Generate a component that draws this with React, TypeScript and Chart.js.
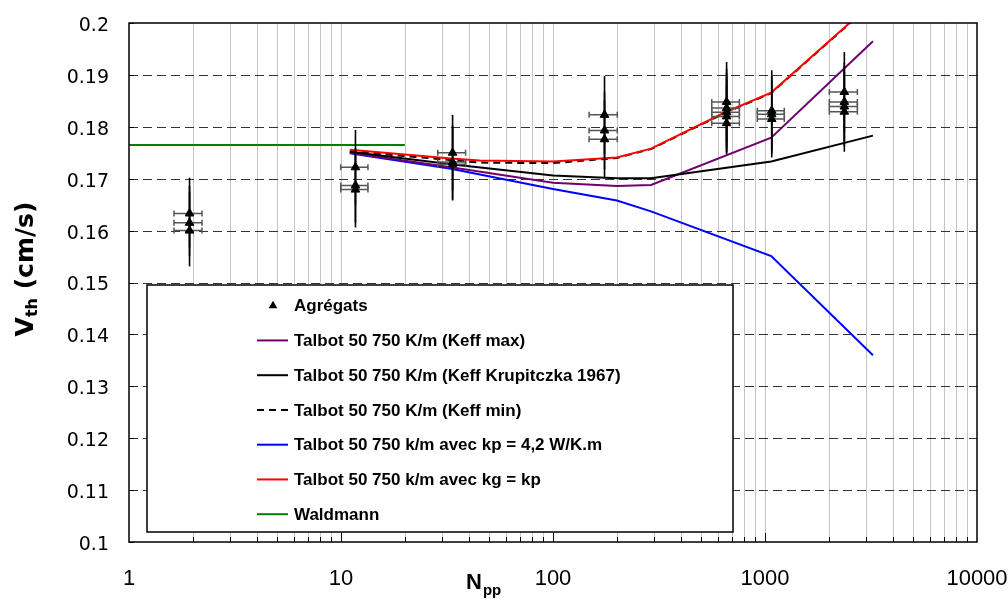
import React, { useEffect, useRef } from 'react';
import { Chart, registerables } from 'chart.js';

Chart.register(...registerables);

// ---- axis ticks ----
const xMajorTicks = [1, 10, 100, 1000, 10000];
const xMinorMultipliers = [1, 2, 3, 4, 5, 6, 7, 8, 9];
const yTicks = [0.1, 0.11, 0.12, 0.13, 0.14, 0.15, 0.16, 0.17, 0.18, 0.19, 0.2];

// ---- Agrégats (measured points with error bars) ----
const aggN = [1.93, 1.93, 1.93, 11.7, 11.7, 11.7, 33.6, 33.6, 33.6, 175, 175, 175, 659, 659, 659, 659, 659, 1076, 1076, 1076, 2367, 2367, 2367, 2367];
const aggV = [0.1633, 0.1615, 0.1600, 0.1722, 0.1687, 0.1679, 0.1750, 0.1732, 0.1728, 0.1823, 0.1793, 0.1776, 0.1848, 0.1836, 0.1828, 0.1820, 0.1807, 0.1831, 0.1824, 0.1815, 0.1867, 0.1848, 0.1839, 0.1829];
const aggNlo = [1.63, 1.63, 1.63, 9.97, 9.97, 9.97, 28.6, 28.6, 28.6, 148, 148, 148, 561, 561, 561, 561, 561, 920, 920, 920, 2011, 2011, 2011, 2011];
const aggNhi = [2.21, 2.21, 2.21, 13.4, 13.4, 13.4, 38.7, 38.7, 38.7, 201, 201, 201, 757, 757, 757, 757, 757, 1233, 1233, 1233, 2727, 2727, 2727, 2727];
const aggVlo = [0.1568, 0.1550, 0.1531, 0.1650, 0.1615, 0.1606, 0.1677, 0.1660, 0.1658, 0.1748, 0.1718, 0.1701, 0.1771, 0.1760, 0.1752, 0.1750, 0.1747, 0.1755, 0.1748, 0.1741, 0.1790, 0.1772, 0.1762, 0.1752];
const aggVhi = [0.1702, 0.1686, 0.1675, 0.1794, 0.1759, 0.1752, 0.1823, 0.1804, 0.1798, 0.1898, 0.1868, 0.1851, 0.1925, 0.1912, 0.1904, 0.1895, 0.1880, 0.1909, 0.1900, 0.1890, 0.1944, 0.1924, 0.1916, 0.1906];

// ---- model curves ----
const keffMaxN = [11, 33, 100, 200, 290, 1070, 3230];
const keffMaxV = [0.1750, 0.1722, 0.1692, 0.1686, 0.1688, 0.1779, 0.1965];

const krupN = [11, 33, 100, 200, 290, 1070, 3230];
const krupV = [0.1752, 0.1728, 0.1706, 0.1701, 0.1701, 0.1733, 0.1783];

const keffMinN = [11, 45, 100, 200, 290, 650, 1070, 3230];
const keffMinV = [0.1753, 0.1731, 0.1730, 0.1740, 0.1757, 0.1827, 0.1865, 0.2039];

const kpN = [11, 33, 100, 200, 290, 1070, 3230];
const kpV = [0.1749, 0.1719, 0.1680, 0.1658, 0.1637, 0.1551, 0.1360];

const kgN = [11, 33, 45, 100, 200, 290, 650, 1070, 3230];
const kgV = [0.1756, 0.1739, 0.1735, 0.1733, 0.1741, 0.1758, 0.1828, 0.1866, 0.2040];

const waldN = [1, 20];
const waldV = [0.1765, 0.1765];

const toXY = (xs: number[], ys: number[]) => xs.map((x, i) => ({ x, y: ys[i] }));

const gridPlugin = {
  id: 'customGrid',
  beforeDatasetsDraw(chart: any) {
    const { ctx, chartArea: a, scales } = chart;
    const x = scales.x, y = scales.y;
    ctx.save();
    ctx.strokeStyle = '#c4c4c4';
    ctx.lineWidth = 1;
    for (let d = 0; d < xMajorTicks.length - 1; d++) {
      for (const m of xMinorMultipliers) {
        const v = xMajorTicks[d] * m;
        if (v <= 1 || v >= 10000) continue;
        const px = Math.round(x.getPixelForValue(v)) + 0.5;
        ctx.beginPath();
        ctx.moveTo(px, a.top);
        ctx.lineTo(px, a.bottom);
        ctx.stroke();
      }
    }
    ctx.strokeStyle = '#333';
    ctx.setLineDash([9, 5]);
    for (let i = 1; i < yTicks.length - 1; i++) {
      const py = Math.round(y.getPixelForValue(yTicks[i])) + 0.5;
      ctx.beginPath();
      ctx.moveTo(a.left, py);
      ctx.lineTo(a.right, py);
      ctx.stroke();
    }
    ctx.restore();
  },
  beforeDatasetDraw(chart: any, args: any) {
    if (args.index !== 0) return;
    const { ctx, scales } = chart;
    const x = scales.x, y = scales.y;
    ctx.save();
    ctx.setLineDash([]);
    ctx.strokeStyle = '#555';
    ctx.lineWidth = 1.5;
    for (let i = 0; i < aggN.length; i++) {
      const py = y.getPixelForValue(aggV[i]);
      const x1 = x.getPixelForValue(aggNlo[i]);
      const x2 = x.getPixelForValue(aggNhi[i]);
      ctx.beginPath();
      ctx.moveTo(x1, py); ctx.lineTo(x2, py);
      ctx.moveTo(x1, py - 3); ctx.lineTo(x1, py + 3);
      ctx.moveTo(x2, py - 3); ctx.lineTo(x2, py + 3);
      ctx.stroke();
    }
    ctx.strokeStyle = '#000';
    ctx.lineWidth = 1.6;
    for (let i = 0; i < aggN.length; i++) {
      const px = x.getPixelForValue(aggN[i]);
      ctx.beginPath();
      ctx.moveTo(px, y.getPixelForValue(aggVlo[i]));
      ctx.lineTo(px, y.getPixelForValue(aggVhi[i]));
      ctx.stroke();
    }
    ctx.restore();
  },
  afterDatasetsDraw(chart: any) {
    const { ctx, chartArea: a, scales } = chart;
    const x = scales.x, y = scales.y;
    ctx.save();
    ctx.setLineDash([]);
    ctx.strokeStyle = '#000';
    ctx.lineWidth = 1.5;
    ctx.strokeRect(a.left, a.top, a.right - a.left, a.bottom - a.top);
    ctx.lineWidth = 1;
    // y ticks (inside)
    for (const v of yTicks) {
      const py = Math.round(y.getPixelForValue(v)) + 0.5;
      ctx.beginPath();
      ctx.moveTo(a.left, py);
      ctx.lineTo(a.left + 5, py);
      ctx.stroke();
    }
    // x ticks (inside)
    for (let d = 0; d < xMajorTicks.length - 1; d++) {
      for (const m of xMinorMultipliers) {
        const v = xMajorTicks[d] * m;
        if (v <= 1) continue;
        const px = Math.round(x.getPixelForValue(v)) + 0.5;
        ctx.beginPath();
        ctx.moveTo(px, a.bottom);
        ctx.lineTo(px, a.bottom - (m === 1 ? 9 : 5));
        ctx.stroke();
      }
    }
    // legend box
    const L = { left: a.left + 18, top: a.top + 262, right: a.left + 604, bottom: a.top + 509 };
    ctx.fillStyle = '#fff';
    ctx.fillRect(L.left, L.top, L.right - L.left, L.bottom - L.top);
    ctx.lineWidth = 1.5;
    ctx.strokeStyle = '#000';
    ctx.strokeRect(L.left, L.top, L.right - L.left, L.bottom - L.top);
    const rowH = 34.75;
    const y0 = L.top + 20.7;
    ctx.font = 'bold 17px "Liberation Sans"';
    ctx.textBaseline = 'middle';
    ctx.textAlign = 'left';
    chart.data.datasets.forEach((ds: any, i: number) => {
      const ry = y0 + i * rowH;
      if (i === 0) {
        const cx = L.left + 126, r = 5;
        ctx.fillStyle = '#000';
        ctx.beginPath();
        ctx.moveTo(cx, ry - r);
        ctx.lineTo(cx + r * 0.866, ry + r * 0.5);
        ctx.lineTo(cx - r * 0.866, ry + r * 0.5);
        ctx.closePath();
        ctx.fill();
      } else {
        ctx.strokeStyle = ds.borderColor;
        ctx.lineWidth = 2;
        ctx.setLineDash(ds.borderDash || []);
        ctx.beginPath();
        ctx.moveTo(L.left + 110, ry);
        ctx.lineTo(L.left + 141, ry);
        ctx.stroke();
        ctx.setLineDash([]);
      }
      ctx.fillStyle = '#000';
      ctx.fillText(ds.label, L.left + 147, ry + 1);
    });
    ctx.restore();
  },
  afterDraw(chart: any) {
    const { ctx } = chart;
    ctx.save();
    ctx.fillStyle = '#000';
    // y title
    ctx.translate(24, 269);
    ctx.rotate(-Math.PI / 2);
    ctx.textBaseline = 'alphabetic';
    ctx.textAlign = 'left';
    const big = 'bold 25px "DejaVu Sans"';
    const small = 'bold 16px "DejaVu Sans"';
    ctx.font = big;
    const wV = ctx.measureText('V').width;
    const wRest = ctx.measureText(' (cm/s)').width;
    ctx.font = small;
    const wSub = ctx.measureText('th').width;
    const total = wV + wSub + wRest;
    let sx = -total / 2;
    const base = 9;
    ctx.font = big;
    ctx.fillText('V', sx, base);
    sx += wV;
    ctx.font = small;
    ctx.fillText('th', sx, base + 4);
    sx += wSub;
    ctx.font = big;
    ctx.fillText(' (cm/s)', sx, base);
    ctx.restore();

    // x title
    ctx.save();
    ctx.fillStyle = '#000';
    ctx.textAlign = 'left';
    ctx.textBaseline = 'alphabetic';
    ctx.font = 'bold 22px "Liberation Sans Narrow", "Liberation Sans"';
    const wN = ctx.measureText('N').width;
    ctx.fillText('N', 466, 589);
    ctx.font = 'bold 15px "Liberation Sans Narrow", "Liberation Sans"';
    ctx.fillText('pp', 466 + wN + 1, 595);
    ctx.restore();
  },
};

export default function App() {
  const ref = useRef<HTMLCanvasElement>(null);
  useEffect(() => {
    const canvas = ref.current;
    if (!canvas) return;
    const lineDs = (label: string, xs: number[], ys: number[], color: string, order: number, dash?: number[]) => ({
      label,
      data: toXY(xs, ys),
      showLine: true,
      borderColor: color,
      backgroundColor: color,
      borderWidth: 2,
      borderDash: dash,
      pointRadius: 0,
      fill: false,
      order,
    });
    const chart = new Chart(canvas, {
      type: 'scatter',
      data: {
        datasets: [
          {
            label: 'Agrégats',
            data: toXY(aggN, aggV),
            pointStyle: 'triangle',
            pointRadius: 5,
            borderWidth: 1,
            backgroundColor: '#000',
            borderColor: '#000',
            showLine: false,
            order: 0,
          } as any,
          lineDs('Talbot 50 750 K/m (Keff max)', keffMaxN, keffMaxV, '#700070', 4),
          lineDs('Talbot 50 750 K/m (Keff Krupitczka 1967)', krupN, krupV, '#000000', 3),
          lineDs('Talbot 50 750 K/m (Keff min)', keffMinN, keffMinV, '#000000', 2, [7, 5]),
          lineDs('Talbot 50 750 k/m avec kp = 4,2 W/K.m', kpN, kpV, '#0000ff', 5),
          lineDs('Talbot 50 750 k/m avec kg = kp', kgN, kgV, '#ff0000', 1),
          lineDs('Waldmann', waldN, waldV, '#008000', 6),
        ],
      },
      options: {
        animation: false,
        responsive: false,
        events: [],
        layout: { padding: { top: 23, right: 31, bottom: 0, left: 0 } },
        plugins: { legend: { display: false }, tooltip: { enabled: false }, title: { display: false } },
        scales: {
          x: {
            type: 'logarithmic',
            position: 'bottom',
            min: 1,
            max: 10000,
            grid: { display: false, drawTicks: false, tickLength: 0 },
            border: { display: false },
            afterBuildTicks: (s: any) => { s.ticks = xMajorTicks.map((v) => ({ value: v })); },
            afterFit: (s: any) => {
              s.height = 57;
              s.paddingLeft = 0;
              s.paddingRight = 0;
              s.paddingTop = 0;
              s.paddingBottom = 0;
            },
            ticks: {
              autoSkip: false,
              maxRotation: 0,
              minRotation: 0,
              padding: 24,
              color: '#000',
              font: { family: '"Liberation Sans"', size: 22 },
              callback: (v: any) => String(v),
            },
          },
          y: {
            type: 'linear',
            min: 0.1,
            max: 0.2,
            grid: { display: false, drawTicks: false, tickLength: 0 },
            border: { display: false },
            afterBuildTicks: (s: any) => { s.ticks = yTicks.map((v) => ({ value: v })); },
            afterFit: (s: any) => {
              s.width = 129;
              s.paddingLeft = 0;
              s.paddingRight = 0;
              s.paddingTop = 0;
              s.paddingBottom = 0;
            },
            ticks: {
              padding: 20,
              labelOffset: 3,
              color: '#000',
              font: { family: '"DejaVu Sans"', size: 19 },
              callback: (v: any) => String(v),
            },
          },
        },
      } as any,
      plugins: [gridPlugin],
    });
    return () => chart.destroy();
  }, []);
  return (
    <div style={{ position: 'absolute', left: 0, top: 0, width: 1008, height: 599, background: '#fff' }}>
      <canvas ref={ref} width={1008} height={599} style={{ display: 'block' }} />
    </div>
  );
}
